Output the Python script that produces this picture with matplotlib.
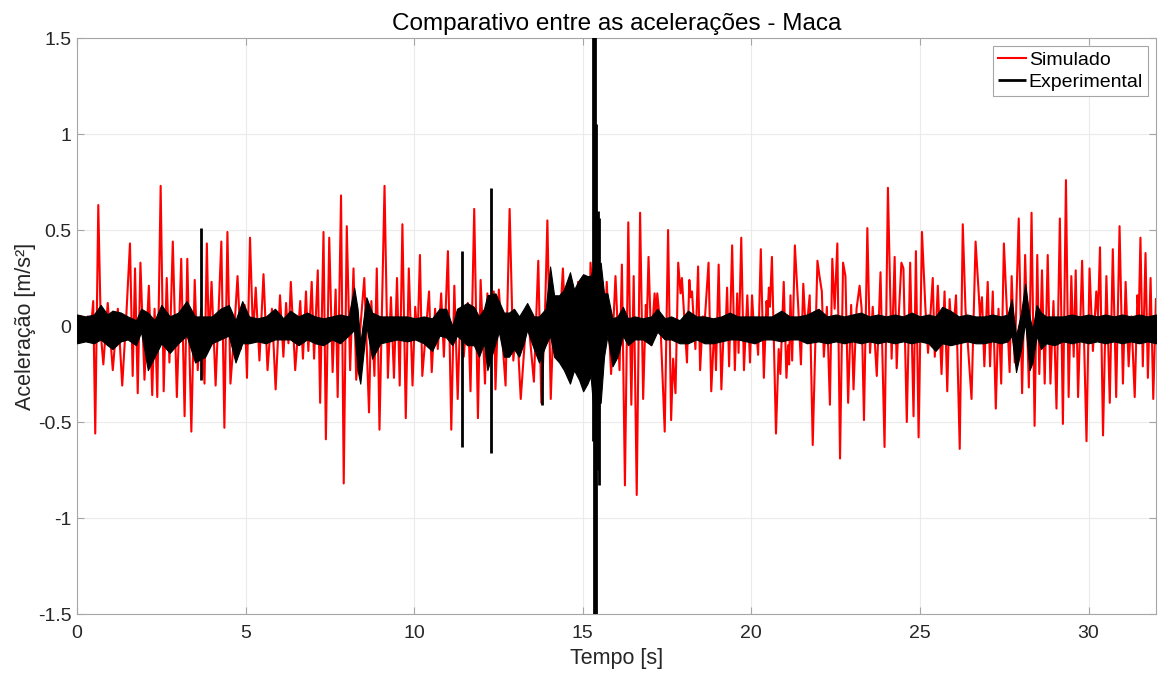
import matplotlib
matplotlib.use("Agg")
import matplotlib.pyplot as plt

plt.rcParams['font.family'] = ['Liberation Sans', 'DejaVu Sans']

# Simulado: picos e vales (tempo [s], aceleracao [m/s2])
simulado = [
    (0.00, -0.02), (0.12, 0.05), (0.22, -0.07), (0.32, 0.05), (0.42, 0.00), (0.48, 0.13),
    (0.54, -0.56), (0.63, 0.63), (0.71, -0.05), (0.78, -0.20), (0.91, 0.12), (1.06, -0.23),
    (1.21, 0.09), (1.34, -0.31), (1.46, 0.05), (1.57, 0.43), (1.65, -0.26), (1.72, 0.30),
    (1.80, -0.35), (1.88, 0.33), (2.00, -0.28), (2.13, 0.21), (2.23, -0.36), (2.30, 0.09),
    (2.38, -0.37), (2.48, 0.73), (2.57, -0.34), (2.66, 0.25), (2.74, -0.19), (2.84, 0.44),
    (2.96, -0.37), (3.09, 0.35), (3.19, -0.47), (3.27, 0.35), (3.39, -0.55), (3.49, 0.24),
    (3.58, -0.23), (3.68, 0.09), (3.78, -0.30), (3.85, 0.43), (3.91, -0.09), (3.99, 0.23),
    (4.11, -0.31), (4.28, 0.44), (4.37, -0.53), (4.46, 0.49), (4.55, -0.30), (4.64, -0.09),
    (4.76, 0.26), (4.86, -0.12), (4.97, 0.11), (5.04, -0.27), (5.13, 0.46), (5.22, -0.05),
    (5.30, 0.20), (5.41, -0.18), (5.53, 0.27), (5.65, -0.23), (5.78, 0.09), (5.89, -0.33),
    (6.02, 0.16), (6.12, -0.16), (6.20, 0.12), (6.27, -0.09), (6.34, 0.23), (6.47, -0.23),
    (6.62, 0.13), (6.70, -0.17), (6.79, 0.18), (6.86, -0.13), (6.96, 0.23), (7.03, -0.17),
    (7.14, 0.29), (7.21, -0.40), (7.31, 0.49), (7.38, -0.59), (7.48, 0.46), (7.58, -0.24),
    (7.67, 0.19), (7.73, -0.37), (7.83, 0.68), (7.91, -0.82), (8.00, 0.52), (8.10, -0.23),
    (8.20, 0.30), (8.28, -0.28), (8.52, 0.25), (8.66, -0.45), (8.73, 0.13), (8.82, -0.26),
    (8.89, 0.30), (8.97, -0.54), (9.12, 0.73), (9.22, -0.27), (9.31, 0.15), (9.40, -0.27),
    (9.49, 0.25), (9.57, -0.31), (9.65, 0.53), (9.75, -0.48), (9.84, 0.30), (9.95, -0.31),
    (10.03, 0.10), (10.10, -0.07), (10.17, 0.37), (10.24, -0.26), (10.44, 0.18), (10.52, -0.24),
    (10.62, 0.09), (10.70, -0.12), (10.80, 0.17), (10.88, -0.16), (11.00, 0.39), (11.10, -0.54),
    (11.19, 0.21), (11.29, -0.38), (11.37, 0.09), (11.47, -0.16), (11.59, 0.12), (11.67, -0.34),
    (11.78, 0.61), (11.89, -0.48), (11.97, 0.24), (12.10, -0.30), (12.17, 0.17), (12.28, -0.09),
    (12.36, 0.18), (12.41, -0.33), (12.51, 0.19), (12.71, -0.31), (12.83, 0.61), (12.94, -0.18),
    (13.04, 0.03), (13.16, -0.38), (13.35, 0.10), (13.55, -0.29), (13.68, 0.34), (13.77, -0.40),
    (13.87, 0.00), (13.95, 0.55), (14.05, -0.38), (14.15, 0.12), (14.26, -0.17), (14.41, 0.30),
    (14.52, -0.16), (14.64, 0.16), (14.76, -0.12), (14.86, 0.23), (14.96, -0.16), (15.12, 0.22),
    (15.19, -0.05), (15.23, 0.33), (15.35, 0.00), (15.48, -0.48), (15.60, 0.17), (15.66, -0.05),
    (15.71, 0.23), (15.84, -0.25), (15.97, 0.26), (16.09, -0.23), (16.16, 0.32), (16.25, -0.83),
    (16.35, 0.54), (16.44, -0.41), (16.51, 0.26), (16.60, -0.88), (16.70, 0.59), (16.79, -0.38),
    (16.87, 0.11), (16.90, 0.02), (16.95, 0.36), (17.03, -0.10), (17.13, 0.17), (17.17, 0.05),
    (17.21, 0.17), (17.31, -0.02), (17.43, -0.55), (17.53, 0.50), (17.62, -0.49), (17.68, -0.17),
    (17.75, -0.35), (17.83, 0.33), (17.90, 0.17), (17.94, 0.25), (18.09, -0.19), (18.16, 0.24),
    (18.20, 0.15), (18.24, 0.18), (18.34, -0.12), (18.42, 0.31), (18.48, -0.23), (18.56, 0.05),
    (18.60, -0.02), (18.73, 0.33), (18.81, -0.34), (18.91, 0.03), (18.95, -0.23), (19.03, 0.32),
    (19.11, -0.33), (19.19, 0.03), (19.23, -0.05), (19.28, 0.20), (19.34, -0.21), (19.43, 0.42),
    (19.51, -0.23), (19.58, 0.17), (19.62, -0.14), (19.70, 0.46), (19.78, -0.23), (19.88, 0.16),
    (19.96, -0.19), (20.02, 0.16), (20.10, -0.09), (20.14, 0.00), (20.20, -0.15), (20.28, 0.40),
    (20.37, -0.27), (20.45, 0.13), (20.48, 0.05), (20.52, 0.20), (20.55, 0.10), (20.61, 0.36),
    (20.73, -0.56), (20.81, -0.12), (20.86, -0.25), (20.96, 0.23), (21.04, -0.27), (21.09, -0.10),
    (21.12, -0.20), (21.16, 0.16), (21.21, -0.18), (21.29, 0.42), (21.39, 0.10), (21.47, -0.20),
    (21.54, 0.22), (21.62, -0.05), (21.73, 0.16), (21.82, -0.62), (21.96, 0.34), (22.02, 0.26),
    (22.09, 0.18), (22.15, -0.16), (22.24, 0.10), (22.33, -0.41), (22.40, 0.35), (22.47, 0.09),
    (22.55, 0.43), (22.63, -0.69), (22.72, 0.33), (22.79, 0.26), (22.87, -0.40), (22.96, 0.11),
    (23.03, -0.33), (23.12, 0.09), (23.21, 0.21), (23.27, 0.09), (23.34, -0.49), (23.44, 0.51),
    (23.52, -0.14), (23.60, 0.10), (23.72, -0.26), (23.83, 0.28), (23.95, -0.63), (24.05, 0.72),
    (24.16, -0.17), (24.25, 0.36), (24.31, -0.22), (24.37, 0.05), (24.45, 0.33), (24.51, 0.30),
    (24.61, -0.50), (24.71, 0.33), (24.81, -0.47), (24.88, 0.39), (24.96, -0.58), (25.06, 0.49),
    (25.16, 0.10), (25.24, -0.14), (25.38, 0.25), (25.44, -0.16), (25.53, 0.21), (25.64, -0.25),
    (25.73, 0.18), (25.81, -0.34), (25.88, 0.14), (25.96, -0.09), (26.07, 0.16), (26.18, -0.64),
    (26.27, 0.53), (26.35, 0.09), (26.53, -0.38), (26.65, 0.44), (26.75, 0.15), (26.78, 0.05),
    (26.84, 0.15), (26.91, -0.21), (27.01, 0.23), (27.08, -0.21), (27.16, 0.18), (27.25, -0.43),
    (27.33, 0.09), (27.41, -0.30), (27.49, 0.43), (27.66, -0.24), (27.72, 0.26), (27.81, -0.19),
    (27.93, 0.56), (28.03, -0.35), (28.12, 0.37), (28.23, -0.32), (28.31, 0.59), (28.40, -0.52),
    (28.48, 0.37), (28.54, -0.25), (28.62, 0.29), (28.70, -0.30), (28.79, 0.37), (28.87, -0.30),
    (28.96, 0.13), (29.05, -0.43), (29.15, 0.56), (29.24, -0.51), (29.33, 0.76), (29.41, -0.37),
    (29.49, 0.26), (29.56, -0.16), (29.62, 0.29), (29.69, -0.37), (29.81, 0.34), (29.94, -0.60),
    (30.03, 0.30), (30.13, -0.13), (30.23, 0.18), (30.28, 0.05), (30.34, 0.41), (30.43, -0.57),
    (30.53, 0.26), (30.63, -0.40), (30.72, 0.40), (30.82, -0.37), (30.92, 0.52), (31.02, -0.30),
    (31.10, 0.23), (31.19, -0.21), (31.27, 0.05), (31.37, -0.37), (31.45, 0.16), (31.49, 0.05),
    (31.54, 0.46), (31.61, -0.21), (31.69, 0.38), (31.76, -0.27), (31.84, 0.25), (31.92, -0.38),
    (32.00, 0.14),
]

# Experimental: faixa de ruido (tempo, limite superior, limite inferior)
experimental_faixa = [
    (0.00, 0.06, -0.09), (0.25, 0.05, -0.08), (0.50, 0.06, -0.09), (0.70, 0.11, -0.07),
    (0.90, 0.06, -0.10), (1.05, 0.08, -0.12), (1.30, 0.07, -0.08), (1.50, 0.05, -0.07),
    (1.75, 0.03, -0.10), (1.90, 0.09, -0.03), (2.10, 0.07, -0.23), (2.30, 0.03, -0.16),
    (2.50, 0.11, -0.09), (2.75, 0.05, -0.14), (3.00, 0.07, -0.09), (3.25, 0.13, -0.05),
    (3.50, 0.05, -0.19), (3.80, 0.05, -0.16), (4.00, 0.05, -0.09), (4.25, 0.09, -0.07),
    (4.50, 0.11, -0.05), (4.70, 0.03, -0.19), (4.90, 0.13, -0.09), (5.10, 0.05, -0.09),
    (5.35, 0.04, -0.08), (5.60, 0.05, -0.09), (5.87, 0.09, -0.07), (6.12, 0.04, -0.07),
    (6.32, 0.08, -0.07), (6.57, 0.05, -0.10), (6.82, 0.07, -0.07), (7.06, 0.05, -0.09),
    (7.31, 0.04, -0.10), (7.56, 0.05, -0.07), (7.80, 0.06, -0.09), (8.05, 0.05, -0.05),
    (8.22, 0.20, -0.02), (8.32, 0.09, -0.23), (8.40, -0.09, -0.30), (8.58, 0.15, 0.00),
    (8.75, 0.07, -0.17), (9.00, 0.05, -0.09), (9.25, 0.05, -0.08), (9.50, 0.05, -0.07),
    (9.78, 0.05, -0.08), (10.03, 0.04, -0.07), (10.28, 0.05, -0.09), (10.53, 0.04, -0.13),
    (10.75, 0.09, -0.05), (10.95, 0.09, -0.06), (11.13, 0.00, -0.10), (11.27, 0.09, -0.05),
    (11.57, 0.12, -0.10), (11.77, 0.10, -0.10), (11.92, 0.05, -0.16), (12.07, 0.09, -0.09),
    (12.17, 0.16, -0.23), (12.41, 0.17, -0.09), (12.51, 0.13, -0.03), (12.66, 0.07, -0.16),
    (12.81, 0.07, -0.16), (12.96, 0.09, -0.12), (13.11, 0.05, -0.16), (13.25, 0.09, -0.09),
    (13.35, 0.12, -0.02), (13.55, 0.05, -0.12), (13.70, 0.05, -0.19), (13.90, 0.09, -0.10),
    (14.03, 0.31, -0.05), (14.15, 0.16, -0.16), (14.30, 0.16, -0.19), (14.44, 0.19, -0.23),
    (14.62, 0.28, -0.30), (14.74, 0.19, -0.23), (14.89, 0.24, -0.28), (15.01, 0.27, -0.34),
    (15.14, 0.26, -0.30), (15.23, 0.26, -0.26), (15.30, 0.30, -0.40), (15.53, 0.33, -0.40),
    (15.63, 0.17, -0.16), (15.73, 0.17, -0.05), (15.88, 0.04, -0.21), (16.03, 0.05, -0.16),
    (16.19, 0.10, -0.05), (16.34, 0.04, -0.10), (16.54, 0.05, -0.07), (16.78, 0.04, -0.07),
    (17.03, 0.05, -0.10), (17.21, 0.09, -0.03), (17.43, 0.04, -0.07), (17.62, 0.05, -0.07),
    (17.87, 0.03, -0.09), (18.12, 0.08, -0.09), (18.37, 0.05, -0.07), (18.61, 0.05, -0.09),
    (18.86, 0.04, -0.09), (19.11, 0.05, -0.08), (19.36, 0.07, -0.07), (19.60, 0.05, -0.07),
    (19.85, 0.05, -0.08), (20.10, 0.05, -0.09), (20.35, 0.05, -0.07), (20.60, 0.05, -0.07),
    (20.89, 0.08, -0.08), (21.14, 0.05, -0.07), (21.39, 0.05, -0.07), (21.65, 0.06, -0.09),
    (21.99, 0.09, -0.08), (22.25, 0.05, -0.09), (22.50, 0.06, -0.08), (22.75, 0.05, -0.09),
    (23.00, 0.06, -0.08), (23.25, 0.07, -0.09), (23.50, 0.05, -0.08), (23.75, 0.06, -0.09),
    (24.00, 0.05, -0.08), (24.25, 0.06, -0.09), (24.50, 0.05, -0.08), (24.75, 0.07, -0.09),
    (25.00, 0.05, -0.08), (25.25, 0.06, -0.09), (25.46, 0.05, -0.13), (25.66, 0.10, -0.09),
    (25.90, 0.08, -0.10), (26.15, 0.05, -0.09), (26.40, 0.06, -0.08), (26.65, 0.05, -0.09),
    (26.90, 0.05, -0.09), (27.15, 0.06, -0.08), (27.40, 0.05, -0.09), (27.60, 0.06, -0.08),
    (27.72, 0.14, -0.05), (27.85, -0.05, -0.24), (28.00, 0.07, -0.12), (28.12, 0.22, 0.02),
    (28.25, 0.05, -0.23), (28.34, -0.02, -0.19), (28.46, 0.11, -0.05), (28.59, 0.07, -0.12),
    (28.74, 0.05, -0.09), (28.99, 0.05, -0.10), (29.24, 0.05, -0.08), (29.50, 0.06, -0.09),
    (29.75, 0.05, -0.08), (30.00, 0.06, -0.09), (30.25, 0.05, -0.08), (30.50, 0.06, -0.09),
    (30.75, 0.05, -0.08), (31.00, 0.06, -0.09), (31.25, 0.05, -0.08), (31.50, 0.06, -0.09),
    (31.75, 0.05, -0.08), (32.00, 0.06, -0.09),
]

# Experimental: picos isolados (tempo, maximo, minimo)
experimental_picos = [
    (3.68, 0.51, -0.28), (11.42, 0.39, -0.63), (12.28, 0.72, -0.66), (13.78, 0.05, -0.41),
    (15.30, 1.60, -0.60), (15.33, 1.60, -1.60), (15.36, 1.60, -1.60), (15.40, 1.05, -1.60),
    (15.44, 0.60, -0.75), (15.48, 0.56, -0.83),
]

sim_t, sim_v = zip(*simulado)
exp_t, exp_hi, exp_lo = zip(*experimental_faixa)
pico_t, pico_hi, pico_lo = zip(*experimental_picos)

fig = plt.figure(figsize=(11.62, 6.74), dpi=100)
ax = fig.add_axes([0.0663, 0.089, 0.9285, 0.8546])

ax.plot(sim_t, sim_v, color=(1, 0, 0), lw=1.5, label='Simulado', zorder=2)
ax.fill_between(exp_t, exp_lo, exp_hi, color='black', lw=0.8, zorder=3)
ax.vlines(pico_t, pico_lo, pico_hi, color='black', lw=2.0, label='Experimental', zorder=3)

ax.set_xlim(0, 32)
ax.set_ylim(-1.5, 1.5)
ax.set_xticks([0, 5, 10, 15, 20, 25, 30])
ax.set_yticks([-1.5, -1, -0.5, 0, 0.5, 1, 1.5])
ax.set_yticklabels(['-1.5', '-1', '-0.5', '0', '0.5', '1', '1.5'])
ax.grid(True, color='#ebebeb', lw=0.8)
ax.set_axisbelow(True)

cor_eixo = '#262626'
for s in ax.spines.values():
    s.set_color('#a6a6a6')
    s.set_linewidth(0.8)
ax.tick_params(direction='in', top=True, right=True, length=5, width=0.8,
               color='#a6a6a6', labelcolor=cor_eixo, labelsize=14)
ax.tick_params(axis='x', pad=8)
ax.tick_params(axis='y', pad=4)

ax.set_title('Comparativo entre as acelerações - Maca', fontsize=17.5, color='black', pad=6)
ax.set_xlabel('Tempo [s]', fontsize=15.5, color=cor_eixo, labelpad=4)
ax.set_ylabel('Aceleração [m/s²]', fontsize=15.5, color=cor_eixo, labelpad=1)

leg = ax.legend(loc='upper right', fontsize=14, fancybox=False, framealpha=1,
                edgecolor='#a6a6a6', borderaxespad=0.42, handlelength=1.45,
                handletextpad=0.15, borderpad=0.25, labelspacing=0.25)
leg.get_frame().set_linewidth(0.8)

fig.savefig('out.png', dpi=100)
